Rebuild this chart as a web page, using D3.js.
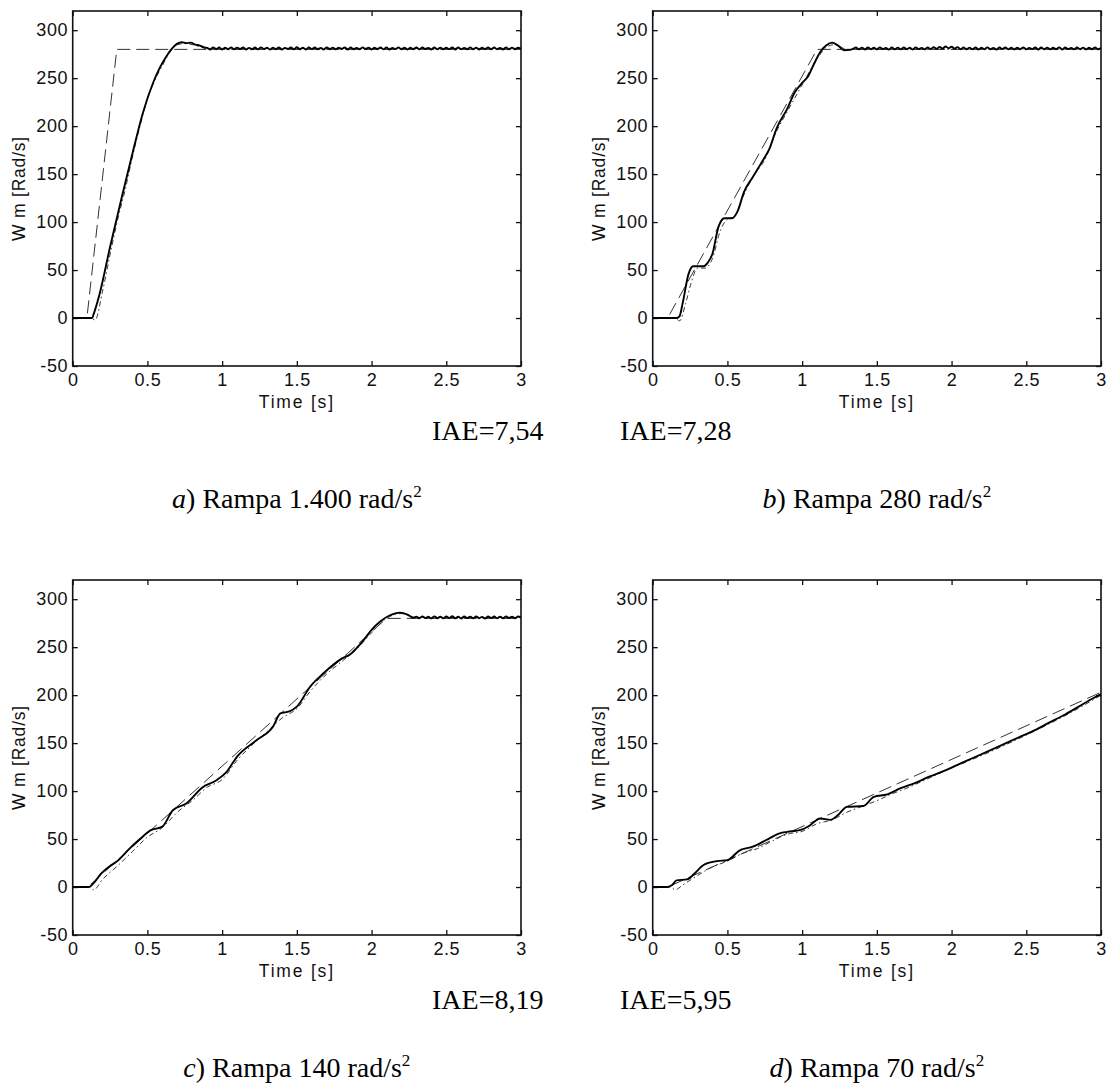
<!DOCTYPE html>
<html>
<head>
<meta charset="utf-8">
<script src="https://cdn.jsdelivr.net/npm/d3@7"></script>
<style>
  html, body { margin: 0; padding: 0; background: #fff; }
  svg { display: block; }
</style>
</head>
<body>
<svg id="chart" width="1107" height="1088"></svg>
<script>
// ---------------- DATA ----------------
const xTicks = [0, 0.5, 1, 1.5, 2, 2.5, 3];
const yTicks = [-50, 0, 50, 100, 150, 200, 250, 300];
const xLabel = "Time [s]";
const yLabel = "W m [Rad/s]";
const iaeLabels = ["IAE=7,54", "IAE=7,28", "IAE=8,19", "IAE=5,95"];
const captionLetters = ["a", "b", "c", "d"];
const captionTexts = [") Rampa 1.400 rad/s", ") Rampa 280 rad/s", ") Rampa 140 rad/s", ") Rampa 70 rad/s"];
const captionSup = "2";

// reference speed (dashed)
const refA = [[0,0],[0.095,0],[0.295,280],[3,280]];
const refB = [[0,0],[0.1,0],[1.1,280],[3,280]];
const refC = [[0,0],[0.1,0],[2.1,280],[3,280]];
const refD = [[0,0],[0.1,0],[3,203]];

// measured speed (solid) – transient part
const speedA = [[0,0],[0.13,0],[0.14,4],[0.18,25],[0.25,74],[0.33,127],[0.41,178],[0.47,214],[0.54,246],[0.58,260],[0.62,271],[0.66,280],[0.7,286],[0.73,287.5],[0.76,286.5],[0.79,287],[0.82,285],[0.85,284],[0.88,282]];
const speedB = [[0,0],[0.16,0],[0.18,2],[0.2,15],[0.24,46],[0.27,54],[0.34,54],[0.37,58],[0.4,67],[0.44,95],[0.48,104],[0.53,104],[0.57,112],[0.61,131],[0.67,147],[0.74,165],[0.78,176],[0.83,198],[0.9,218],[0.95,235],[1.0,245],[1.04,252],[1.08,265],[1.12,277],[1.16,284],[1.2,287],[1.24,284],[1.28,279],[1.32,279.5]];
const speedC = [[0,0],[0.11,0],[0.14,4],[0.19,14],[0.25,22],[0.29,26],[0.38,40],[0.45,50],[0.52,59],[0.6,63],[0.67,80],[0.76,87],[0.87,104],[0.96,111],[1.03,120],[1.1,136],[1.23,153],[1.34,167],[1.39,181],[1.45,183],[1.5,188],[1.59,209],[1.68,223],[1.79,237],[1.86,243],[1.95,258],[2.0,268],[2.06,277],[2.12,283],[2.19,286],[2.24,284],[2.28,280.5]];
const speedD = [[0,0],[0.1,0],[0.13,2],[0.16,7],[0.23,8],[0.28,14],[0.34,23],[0.43,27],[0.5,28],[0.58,38],[0.67,42],[0.76,49],[0.85,56],[0.9,57.5],[0.99,59.5],[1.05,64],[1.12,71.5],[1.19,70],[1.24,75],[1.3,83.5],[1.41,84.5],[1.48,94],[1.57,96.5],[1.66,103],[1.75,108],[1.85,115],[1.95,121],[2.05,128],[2.15,135],[2.25,142],[2.35,149],[2.45,156],[2.55,163],[2.65,171],[2.75,179],[2.85,188],[2.95,197],[3,201]];

// measured speed (solid) – steady-state ripple
const steadyA = [[0.90,281.6],[0.92,279.9],[0.94,282.0],[0.96,280.2],[0.98,281.9],[1.00,279.8],[1.02,281.7],[1.04,280.1],[1.06,282.1],[1.08,280.0],[1.10,281.8],[1.12,280.3],[1.14,282.0],[1.16,279.9],[1.18,281.6],[1.20,280.1],
[1.22,281.9],[1.24,280.0],[1.26,282.1],[1.28,280.3],[1.30,281.7],[1.32,279.8],[1.34,281.8],[1.36,280.2],[1.38,282.0],[1.40,279.9],[1.42,281.6],[1.44,280.4],[1.46,281.9],[1.48,280.0],[1.50,282.2],[1.52,280.1],
[1.54,281.7],[1.56,279.8],[1.58,281.9],[1.60,280.3],[1.62,282.0],[1.64,280.0],[1.66,281.6],[1.68,279.9],[1.70,282.1],[1.72,280.2],[1.74,281.8],[1.76,280.0],[1.78,281.7],[1.80,280.4],[1.82,282.0],[1.84,279.8],
[1.86,281.9],[1.88,280.1],[1.90,281.6],[1.92,280.0],[1.94,282.1],[1.96,280.3],[1.98,281.8],[2.00,279.9],[2.02,281.7],[2.04,280.2],[2.06,282.0],[2.08,280.0],[2.10,281.9],[2.12,279.8],[2.14,281.6],[2.16,280.3],
[2.18,282.1],[2.20,280.1],[2.22,281.8],[2.24,279.9],[2.26,281.7],[2.28,280.2],[2.30,282.0],[2.32,280.0],[2.34,281.9],[2.36,280.4],[2.38,281.6],[2.40,279.8],[2.42,282.1],[2.44,280.1],[2.46,281.8],[2.48,280.0],
[2.50,281.7],[2.52,280.3],[2.54,282.0],[2.56,279.9],[2.58,281.9],[2.60,280.2],[2.62,281.6],[2.64,280.0],[2.66,282.1],[2.68,280.1],[2.70,281.8],[2.72,279.8],[2.74,281.7],[2.76,280.3],[2.78,282.0],[2.80,280.0],
[2.82,281.9],[2.84,280.2],[2.86,281.6],[2.88,279.9],[2.90,282.1],[2.92,280.1],[2.94,281.8],[2.96,280.0],[2.98,281.7],[3.00,280.6]];
const steadyB = [[1.34,280.6],[1.36,281.9],[1.38,280.1],[1.40,281.8],[1.42,279.9],[1.44,282.0],[1.46,280.2],[1.48,281.7],[1.50,280.0],[1.52,282.1],[1.54,280.3],[1.56,281.6],[1.58,279.8],[1.60,281.9],[1.62,280.1],[1.64,281.8],
[1.66,280.0],[1.68,282.0],[1.70,280.2],[1.72,281.7],[1.74,279.9],[1.76,282.1],[1.78,280.3],[1.80,281.6],[1.82,280.0],[1.84,281.9],[1.86,280.4],[1.88,282.2],[1.90,280.6],[1.92,282.6],[1.94,281.0],[1.96,283.0],
[1.98,281.2],[2.00,282.8],[2.02,280.8],[2.04,282.3],[2.06,280.2],[2.08,281.9],[2.10,280.0],[2.12,281.8],[2.14,280.1],[2.16,282.0],[2.18,279.9],[2.20,281.7],[2.22,280.2],[2.24,282.1],[2.26,280.0],[2.28,281.6],
[2.30,279.8],[2.32,281.9],[2.34,280.3],[2.36,282.0],[2.38,280.1],[2.40,281.7],[2.42,279.9],[2.44,281.8],[2.46,280.2],[2.48,282.1],[2.50,280.0],[2.52,281.6],[2.54,280.3],[2.56,281.9],[2.58,279.9],[2.60,282.0],
[2.62,280.1],[2.64,281.8],[2.66,280.0],[2.68,281.7],[2.70,280.2],[2.72,282.1],[2.74,279.8],[2.76,281.9],[2.78,280.3],[2.80,281.6],[2.82,280.0],[2.84,282.0],[2.86,280.1],[2.88,281.8],[2.90,279.9],[2.92,281.7],
[2.94,280.2],[2.96,282.0],[2.98,280.0],[3.00,281.3]];
const steadyC = [[2.30,281.8],[2.32,280.1],[2.34,282.0],[2.36,280.3],[2.38,281.7],[2.40,279.9],[2.42,282.1],[2.44,280.2],[2.46,281.8],[2.48,280.0],[2.50,281.9],[2.52,280.4],[2.54,282.2],[2.56,280.1],[2.58,281.7],[2.60,279.9],
[2.62,282.0],[2.64,280.3],[2.66,281.8],[2.68,280.0],[2.70,282.1],[2.72,280.2],[2.74,281.6],[2.76,279.9],[2.78,281.9],[2.80,280.3],[2.82,282.0],[2.84,280.1],[2.86,281.8],[2.88,280.0],[2.90,282.1],[2.92,280.4],
[2.94,281.7],[2.96,280.0],[2.98,281.9],[3.00,280.8]];
const steadyD = [];

// estimated speed (thin dash-dot)
const modelA = [[0,0],[0.12,0],[0.15,-2],[0.2,28],[0.25,66],[0.3,102],[0.35,133],[0.4,168],[0.45,200],[0.5,228],[0.55,248],[0.6,263],[0.65,277],[0.7,285],[0.75,286],[0.8,285],[0.9,281],[3,281]];
const modelB = [[0,0],[0.15,0],[0.18,-3],[0.22,15],[0.26,38],[0.3,52],[0.35,52],[0.4,62],[0.45,90],[0.5,103],[0.55,106],[0.6,125],[0.67,147],[0.75,165],[0.83,195],[0.9,215],[1.0,243],[1.1,270],[1.16,282],[1.22,285],[1.3,280],[3,281]];
const modelC = [[0,0],[0.12,0],[0.14,-3],[0.2,8],[0.3,22],[0.4,37],[0.5,52],[0.6,62],[0.7,78],[0.8,90],[0.9,104],[1.0,112],[1.1,132],[1.2,148],[1.3,162],[1.4,176],[1.5,186],[1.6,206],[1.7,222],[1.8,235],[1.9,248],[2.0,265],[2.1,280],[2.2,285],[2.3,281],[3,281]];
const modelD = [[0,0],[0.12,0],[0.15,-3],[0.2,2],[0.3,12],[0.4,21],[0.5,27],[0.6,35],[0.7,40],[0.8,48],[0.9,55],[1.0,58],[1.1,66],[1.2,70],[1.3,78],[1.4,84],[1.5,90],[1.6,97],[1.7,103],[1.8,110],[2.0,124],[2.2,137],[2.4,151],[2.6,166],[2.8,182],[3,200]];

// ---------------- LAYOUT ----------------
const svg = d3.select("#chart");
svg.append("rect").attr("width", 1107).attr("height", 1088).attr("fill", "#fff");

const panelOffsets = [[0,0],[580,0],[0,569],[580,569]];
const iaeX = [432, 40, 432, 40];           // relative to panel origin
const L = 72.7, R = 521, T = 11, B = 366;
const sansFont = "'Liberation Sans', Arial, sans-serif";
const serifFont = "'Liberation Serif', 'Times New Roman', serif";

const x = d3.scaleLinear().domain([0, 3]).range([L, R]);
const y = d3.scaleLinear().domain([-50, 320]).range([B, T]);
const line = d3.line().x(d => x(d[0])).y(d => y(d[1]));
const smoothLine = d3.line().x(d => x(d[0])).y(d => y(d[1])).curve(d3.curveMonotoneX);

const panels = [
  { ref: refA, speed: speedA.concat(steadyA), model: modelA },
  { ref: refB, speed: speedB.concat(steadyB), model: modelB },
  { ref: refC, speed: speedC.concat(steadyC), model: modelC },
  { ref: refD, speed: speedD.concat(steadyD), model: modelD }
];

const defs = svg.append("defs");
defs.append("clipPath").attr("id", "plotclip")
  .append("rect").attr("x", L).attr("y", T).attr("width", R - L).attr("height", B - T);

panels.forEach((p, i) => {
  const g = svg.append("g").attr("transform", `translate(${panelOffsets[i][0]},${panelOffsets[i][1]})`);

  // axes with inward ticks
  const fmt = d => String(d);
  const axB = g.append("g").attr("transform", `translate(0,${B})`)
    .call(d3.axisBottom(x).tickValues(xTicks).tickFormat(fmt).tickSizeInner(-5).tickSizeOuter(0).tickPadding(7));
  const axT = g.append("g").attr("transform", `translate(0,${T})`)
    .call(d3.axisTop(x).tickValues(xTicks).tickFormat("").tickSizeInner(-5).tickSizeOuter(0));
  const axL = g.append("g").attr("transform", `translate(${L},0)`)
    .call(d3.axisLeft(y).tickValues(yTicks).tickFormat(fmt).tickSizeInner(-5).tickSizeOuter(0).tickPadding(4.5));
  const axR = g.append("g").attr("transform", `translate(${R},0)`)
    .call(d3.axisRight(y).tickValues(yTicks).tickFormat("").tickSizeInner(-5).tickSizeOuter(0));
  [axB, axT, axL, axR].forEach(a => {
    a.select(".domain").remove();
    a.selectAll(".tick line").attr("stroke", "#111").attr("stroke-width", 1.3);
    a.selectAll(".tick text").attr("font-family", sansFont).attr("font-size", 18)
      .attr("letter-spacing", "0.6px").attr("fill", "#111");
  });

  // box
  g.append("rect").attr("x", L).attr("y", T).attr("width", R - L).attr("height", B - T)
    .attr("fill", "none").attr("stroke", "#111").attr("stroke-width", 1.6);

  const plot = g.append("g").attr("clip-path", "url(#plotclip)");
  plot.append("path").datum(p.model).attr("d", smoothLine)
    .attr("fill", "none").attr("stroke", "#222").attr("stroke-width", 0.9)
    .attr("stroke-dasharray", "5,3,1.5,3");
  plot.append("path").datum(p.ref).attr("d", line)
    .attr("fill", "none").attr("stroke", "#333").attr("stroke-width", 1)
    .attr("stroke-dasharray", "13,6");
  plot.append("path").datum(p.speed).attr("d", smoothLine)
    .attr("fill", "none").attr("stroke", "#000").attr("stroke-width", 1.9)
    .attr("stroke-linejoin", "round");

  // axis titles
  g.append("text").attr("x", (L + R) / 2).attr("y", 408)
    .attr("text-anchor", "middle").attr("font-family", sansFont).attr("font-size", 17.5)
    .attr("letter-spacing", "1.8px").attr("fill", "#111").text(xLabel);
  g.append("text").attr("transform", `translate(25,${(T + B) / 2}) rotate(-90)`)
    .attr("text-anchor", "middle").attr("font-family", sansFont).attr("font-size", 17.5)
    .attr("letter-spacing", "0.8px").attr("fill", "#111").text(yLabel);

  // IAE
  g.append("text").attr("x", iaeX[i]).attr("y", 440)
    .attr("font-family", serifFont).attr("font-size", 28).attr("fill", "#000").text(iaeLabels[i]);

  // caption
  const cap = g.append("text").attr("x", (L + R) / 2).attr("y", 508)
    .attr("text-anchor", "middle").attr("font-family", serifFont).attr("font-size", 28).attr("fill", "#000");
  cap.append("tspan").attr("font-style", "italic").text(captionLetters[i]);
  cap.append("tspan").text(captionTexts[i]);
  cap.append("tspan").attr("font-size", 17).attr("dy", -11).text(captionSup);
});
</script>
</body>
</html>
